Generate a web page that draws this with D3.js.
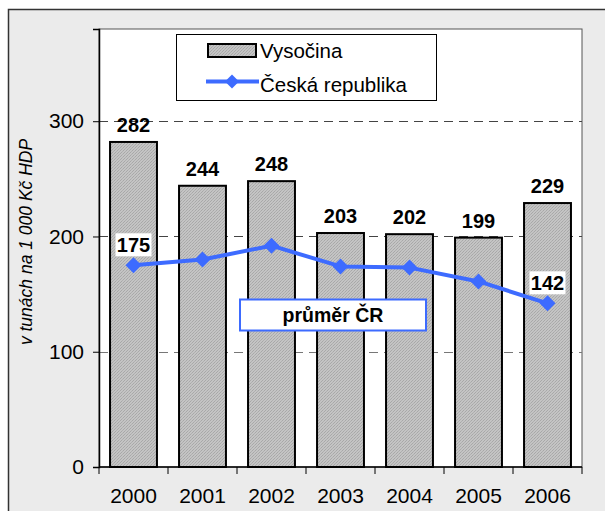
<!DOCTYPE html>
<html>
<head>
<meta charset="utf-8">
<script src="https://cdn.jsdelivr.net/npm/d3@7"></script>
<style>
  body { margin: 0; background: #fff; }
  svg { display: block; font-family: "Liberation Sans", Arial, sans-serif; }
</style>
</head>
<body>
<div id="chart"></div>
<script>
var years = ["2000", "2001", "2002", "2003", "2004", "2005", "2006"];
var vysocina = [282, 244, 248, 203, 202, 199, 229];
var cr = [175, 180, 192, 174, 173, 161, 142];
var yTicks = [0, 100, 200, 300];

var W = 605, H = 511;
var m = { left: 99, top: 29, right: 582, bottom: 467 };

var svg = d3.select("#chart").append("svg")
  .attr("width", W)
  .attr("height", H);

// hatched grey fill of the bars
var defs = svg.append("defs");
var pat = defs.append("pattern")
  .attr("id", "hatch")
  .attr("width", 3).attr("height", 3)
  .attr("patternUnits", "userSpaceOnUse");
pat.append("rect").attr("width", 3).attr("height", 3).attr("fill", "#c4c4c4");
pat.append("rect").attr("width", 1).attr("height", 1).attr("fill", "#a8a8a8");
pat.append("rect").attr("x", 2).attr("y", 1).attr("width", 1).attr("height", 1).attr("fill", "#b0b0b0");
pat.append("rect").attr("x", 1).attr("y", 2).attr("width", 1).attr("height", 1).attr("fill", "#a8a8a8");

// outer chart area
svg.append("rect")
  .attr("x", 8.5).attr("y", 9.5)
  .attr("width", W).attr("height", H)
  .attr("fill", "#ebebeb")
  .attr("stroke", "#333")
  .attr("stroke-width", 1.5);

// plot area
svg.append("rect")
  .attr("x", m.left).attr("y", m.top)
  .attr("width", m.right - m.left).attr("height", m.bottom - m.top)
  .attr("fill", "#fff")
  .attr("stroke", "#555")
  .attr("stroke-width", 1);

var x = d3.scaleBand().domain(years).range([m.left, m.right]).paddingInner(0.32).paddingOuter(0.16);
var xb = d3.scaleBand().domain(years).range([m.left, m.right]);
var y = d3.scaleLinear().domain([0, 380]).range([m.bottom, m.top]);

// grid
svg.selectAll(".grid")
  .data(yTicks.filter(function(d) { return d > 0; }))
  .enter().append("line")
  .attr("x1", m.left).attr("x2", m.right)
  .attr("y1", function(d) { return Math.round(y(d)) + 0.5; })
  .attr("y2", function(d) { return Math.round(y(d)) + 0.5; })
  .attr("stroke", function(d) { return d == 100 ? "#777" : "#444"; })
  .attr("stroke-width", 1)
  .attr("stroke-dasharray", "9,6");

// bars
svg.selectAll(".bar")
  .data(vysocina)
  .enter().append("rect")
  .attr("x", function(d, i) { return x(years[i]); })
  .attr("y", function(d) { return y(d); })
  .attr("width", x.bandwidth())
  .attr("height", function(d) { return y(0) - y(d); })
  .attr("fill", "url(#hatch)")
  .attr("stroke", "#000")
  .attr("stroke-width", 2);

// bar labels
svg.selectAll(".blab")
  .data(vysocina)
  .enter().append("text")
  .attr("x", function(d, i) { return x(years[i]) + x.bandwidth() / 2; })
  .attr("y", function(d) { return y(d) - 10; })
  .attr("text-anchor", "middle")
  .attr("font-size", 20)
  .attr("font-weight", "bold")
  .text(function(d) { return d; });

// axes
var yAxis = d3.axisLeft(y).tickValues(yTicks).tickSize(6).tickPadding(9);
var gy = svg.append("g").attr("transform", "translate(" + m.left + ",0)").call(yAxis);
gy.select(".domain").attr("stroke", "#000").attr("stroke-width", 1.5);
gy.selectAll(".tick line").attr("stroke", "#000");
gy.selectAll("text").attr("font-size", 21).attr("font-family", "Liberation Sans, Arial, sans-serif").attr("fill", "#000");

var gx = svg.append("g").attr("transform", "translate(0," + m.bottom + ")");
gx.append("line").attr("x1", m.left).attr("x2", m.right).attr("stroke", "#000").attr("stroke-width", 1.5);
gx.selectAll(".xt")
  .data(years.concat(["end"]))
  .enter().append("line")
  .attr("x1", function(d, i) { return m.left + i * xb.bandwidth(); })
  .attr("x2", function(d, i) { return m.left + i * xb.bandwidth(); })
  .attr("y1", 0).attr("y2", 7)
  .attr("stroke", "#000");
gx.selectAll(".xl")
  .data(years)
  .enter().append("text")
  .attr("x", function(d) { return xb(d) + xb.bandwidth() / 2; })
  .attr("y", 36)
  .attr("text-anchor", "middle")
  .attr("font-size", 21)
  .text(function(d) { return d; });

// y title
svg.append("text")
  .attr("transform", "translate(32,242) rotate(-90)")
  .attr("text-anchor", "middle")
  .attr("font-size", 17.5)
  .attr("font-style", "italic")
  .text("v tunách na 1 000 Kč HDP");

// line
var blue = "#3d6bff";
var line = d3.line()
  .x(function(d, i) { return xb(years[i]) + xb.bandwidth() / 2; })
  .y(function(d) { return y(d); });
svg.append("path")
  .datum(cr)
  .attr("d", line)
  .attr("fill", "none")
  .attr("stroke", blue)
  .attr("stroke-width", 4)
  .attr("stroke-linejoin", "round");
svg.selectAll(".pt")
  .data(cr)
  .enter().append("path")
  .attr("transform", function(d, i) { return "translate(" + (xb(years[i]) + xb.bandwidth() / 2) + "," + y(d) + ")"; })
  .attr("d", "M0,-8L8,0L0,8L-8,0Z")
  .attr("fill", blue);

// first and last labels of the line
[0, cr.length - 1].forEach(function(i) {
  var cx = xb(years[i]) + xb.bandwidth() / 2;
  var g = svg.append("g");
  g.append("rect")
    .attr("x", cx - 18).attr("y", y(cr[i]) - 32)
    .attr("width", 36).attr("height", 23)
    .attr("fill", "#fff");
  g.append("text")
    .attr("x", cx).attr("y", y(cr[i]) - 13)
    .attr("text-anchor", "middle")
    .attr("font-size", 20)
    .attr("font-weight", "bold")
    .text(cr[i]);
});

// průměr ČR box
svg.append("rect")
  .attr("x", 240).attr("y", 299.5)
  .attr("width", 186).attr("height", 31)
  .attr("fill", "#fff")
  .attr("stroke", blue)
  .attr("stroke-width", 2);
svg.append("text")
  .attr("x", 333).attr("y", 322)
  .attr("text-anchor", "middle")
  .attr("font-size", 19.5)
  .attr("font-weight", "bold")
  .text("průměr ČR");

// legend
var lg = svg.append("g");
lg.append("rect")
  .attr("x", 176.5).attr("y", 34.5)
  .attr("width", 260).attr("height", 66)
  .attr("fill", "#fff")
  .attr("stroke", "#000")
  .attr("stroke-width", 1);
lg.append("rect")
  .attr("x", 208).attr("y", 44)
  .attr("width", 48).attr("height", 13)
  .attr("fill", "url(#hatch)")
  .attr("stroke", "#000")
  .attr("stroke-width", 2);
lg.append("text").attr("x", 260).attr("y", 58).attr("font-size", 20.5).text("Vysočina");
lg.append("line")
  .attr("x1", 206).attr("x2", 259)
  .attr("y1", 81.5).attr("y2", 81.5)
  .attr("stroke", blue).attr("stroke-width", 4);
lg.append("path")
  .attr("transform", "translate(232,81.5)")
  .attr("d", "M0,-7L7,0L0,7L-7,0Z")
  .attr("fill", blue);
lg.append("text").attr("x", 260).attr("y", 92).attr("font-size", 20.5).text("Česká republika");
</script>
</body>
</html>
